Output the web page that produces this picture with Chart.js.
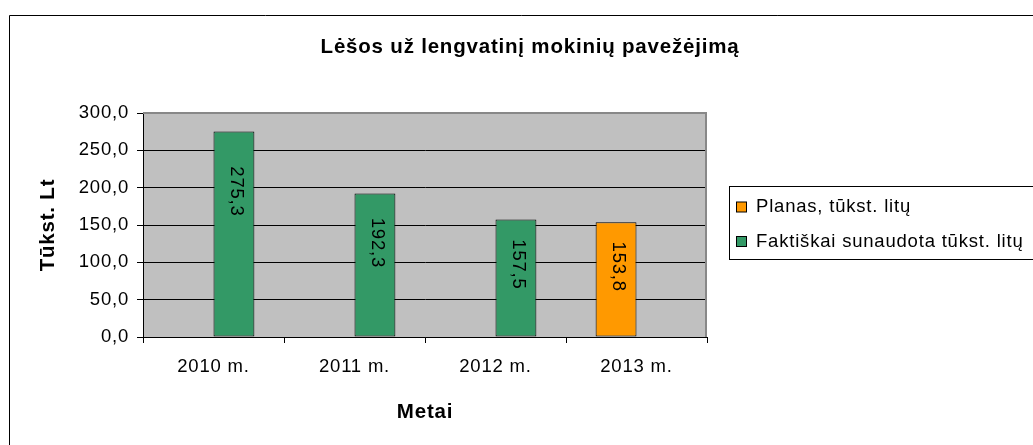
<!DOCTYPE html>
<html>
<head>
<meta charset="utf-8">
<script src="https://cdn.jsdelivr.net/npm/chart.js@4.4.1/dist/chart.umd.min.js"></script>
<style>
  html, body { margin: 0; padding: 0; background: #fff; }
  canvas { display: block; }
</style>
</head>
<body>
<canvas id="c" width="1033" height="445"></canvas>
<script>
const chartTitle = 'Lėšos už lengvatinį mokinių pavežėjimą';
const yAxisTitle = 'Tūkst. Lt';
const xAxisTitle = 'Metai';
const categories = ['2010 m.', '2011 m.', '2012 m.', '2013 m.'];
const seriesNames = ['Planas, tūkst. litų', 'Faktiškai sunaudota tūkst. litų'];
const planValues = [null, null, null, 153.8];
const actualValues = [275.3, 192.3, 157.5, null];
const yMin = 0, yMax = 300, yStep = 50;
const colors = ['#FF9900', '#339966'];

const FONT = '"Liberation Sans", Arial, sans-serif';
const REG = 18.5, BOLD = 20.5;
Chart.defaults.font.family = FONT;
Chart.defaults.color = '#000';

const fmt = v => Number(v).toFixed(1).replace('.', ',');

const decor = {
  id: 'decor',
  beforeDraw(chart) {
    const ctx = chart.ctx;
    ctx.letterSpacing = '0.8px';
    const a = chart.chartArea;
    ctx.save();
    ctx.fillStyle = '#fff';
    ctx.fillRect(0, 0, chart.width, chart.height);
    // outer frame
    ctx.strokeStyle = '#000';
    ctx.lineWidth = 1;
    ctx.beginPath();
    ctx.moveTo(9.5, chart.height + 5);
    ctx.lineTo(9.5, 15.5);
    ctx.lineTo(chart.width + 5, 15.5);
    ctx.stroke();
    // plot background
    ctx.fillStyle = '#C0C0C0';
    ctx.fillRect(a.left, a.top, a.right - a.left, a.bottom - a.top);
    // title
    ctx.fillStyle = '#000';
    ctx.font = 'bold ' + BOLD + 'px ' + FONT;
    ctx.textAlign = 'center';
    ctx.textBaseline = 'alphabetic';
    ctx.fillText(chartTitle, 530, 53);
    // legend
    ctx.strokeStyle = '#000';
    ctx.strokeRect(729.5, 186.5, 400, 73);
    ctx.font = REG + 'px ' + FONT;
    ctx.textAlign = 'left';
    ctx.textBaseline = 'middle';
    chart.data.datasets.forEach((ds, i) => {
      const cy = 207 + i * 34.5;
      ctx.fillStyle = ds.backgroundColor;
      ctx.fillRect(736.5, cy - 5, 10, 10);
      ctx.strokeStyle = '#000';
      ctx.strokeRect(736.5, cy - 5, 10, 10);
      ctx.fillStyle = '#000';
      ctx.fillText(ds.label, 756, cy);
    });
    ctx.restore();
  },
  beforeDatasetsDraw(chart) {
    const ctx = chart.ctx;
    const a = chart.chartArea;
    ctx.save();
    ctx.strokeStyle = '#888';
    ctx.lineWidth = 2;
    ctx.beginPath();
    ctx.moveTo(a.left, a.top);
    ctx.lineTo(a.right - 1, a.top);
    ctx.lineTo(a.right - 1, a.bottom);
    ctx.stroke();
    ctx.restore();
  },
  afterDatasetsDraw(chart) {
    const ctx = chart.ctx;
    ctx.save();
    ctx.font = REG + 'px ' + FONT;
    chart.data.datasets.forEach((ds, di) => {
      const meta = chart.getDatasetMeta(di);
      meta.data.forEach((bar, i) => {
        const v = ds.data[i];
        if (v === null || v === undefined) return;
        const {x, y, base} = bar.getProps(['x', 'y', 'base'], true);
        const txt = fmt(v);
        const len = ctx.measureText(txt).width;
        const cy = y + 0.17 * (base - y) + len / 2;
        ctx.save();
        ctx.translate(x + 2, cy);
        ctx.rotate(Math.PI / 2);
        ctx.fillStyle = '#000';
        ctx.textAlign = 'center';
        ctx.textBaseline = 'middle';
        ctx.fillText(txt, 0, 0);
        ctx.restore();
      });
    });
    ctx.restore();
  }
};

new Chart(document.getElementById('c'), {
  type: 'bar',
  data: {
    labels: categories,
    datasets: [
      { label: seriesNames[0], data: planValues, backgroundColor: colors[0] },
      { label: seriesNames[1], data: actualValues, backgroundColor: colors[1] }
    ]
  },
  options: {
    responsive: false,
    animation: false,
    devicePixelRatio: 1,
    layout: { padding: { top: 113, right: 326, left: 0, bottom: 0 } },
    datasets: {
      bar: {
        borderColor: '#000',
        borderWidth: 1,
        borderSkipped: false,
        barPercentage: 1,
        categoryPercentage: 0.58
      }
    },
    plugins: {
      legend: { display: false },
      title: { display: false },
      tooltip: { enabled: false }
    },
    scales: {
      x: {
        afterFit(s) { s.height = 108; },
        grid: { display: true, drawOnChartArea: false, drawTicks: true, tickLength: 6, color: '#000', offset: true },
        border: { display: true, color: '#000', width: 1 },
        ticks: { font: { size: REG }, color: '#000', padding: 13, maxRotation: 0, autoSkip: false },
        title: { display: true, text: xAxisTitle, font: { size: BOLD, weight: 'bold' }, color: '#000', padding: { top: 0, bottom: 20 } }
      },
      y: {
        min: yMin, max: yMax,
        afterFit(s) { s.width = 143; },
        grid: { color: '#000', lineWidth: 1, tickLength: 6, drawTicks: true },
        border: { display: true, color: '#000', width: 1 },
        ticks: { stepSize: yStep, font: { size: REG }, color: '#000', padding: 8, callback: v => fmt(v) },
        title: { display: true, text: yAxisTitle, font: { size: BOLD, weight: 'bold' }, color: '#000', padding: { top: 36, bottom: 0 } }
      }
    }
  },
  plugins: [decor]
});
</script>
</body>
</html>
